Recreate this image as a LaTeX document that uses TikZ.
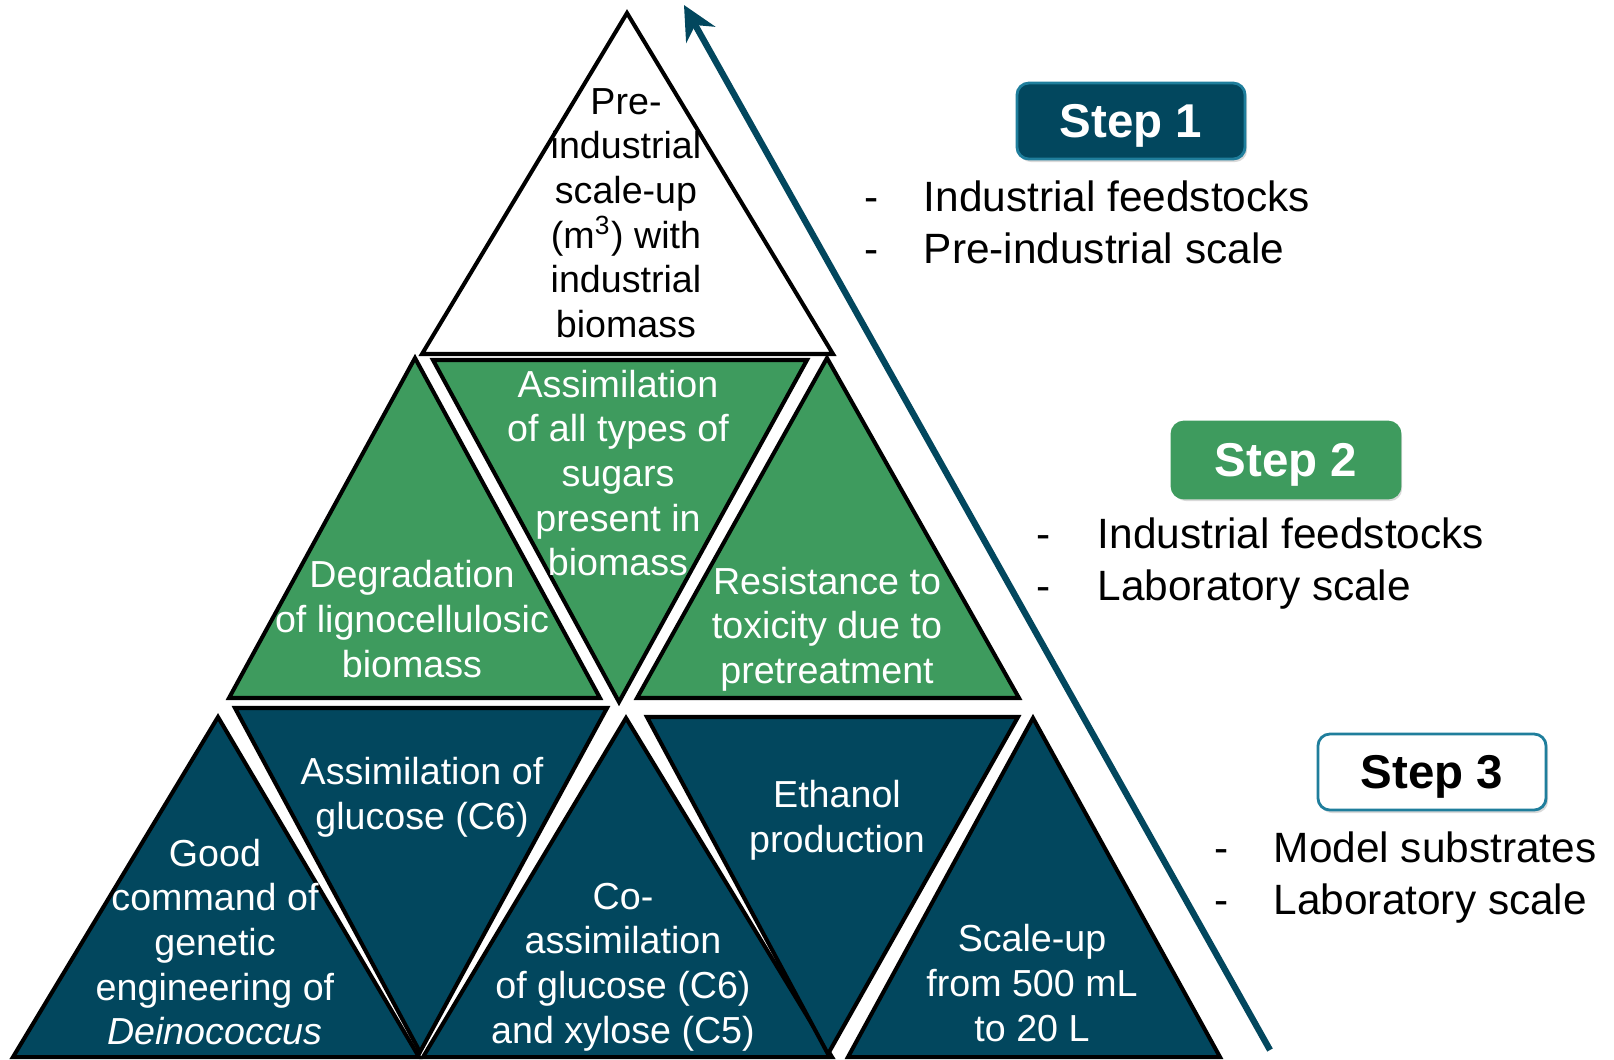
\documentclass[tikz,border=0pt]{standalone}
\usepackage{fontspec}
\setmainfont{Liberation Sans}
\usetikzlibrary{arrows.meta,shadows}

\definecolor{darkblue}{HTML}{02475E}
\definecolor{leafgreen}{HTML}{3E9B5E}
\definecolor{boxteal}{HTML}{1F7E9C}

\tikzset{
  tri/.style={draw=black,line width=1.15pt},
  stepbox/.style={rounded corners=0.12cm,minimum width=2.28cm,minimum height=0.76cm,
    inner sep=0pt,text depth=0pt,line width=0.8pt,font=\fontsize{13.5}{16}\selectfont\bfseries,
    drop shadow={shadow xshift=0.02cm,shadow yshift=-0.03cm,opacity=0.3}},
  bullets/.style={anchor=base west,inner sep=0pt,font=\fontsize{12.05}{14.8}\selectfont}
}

\begin{document}
\begin{tikzpicture}[x=0.01cm,y=-0.01cm]
  \useasboundingbox (0,0) rectangle (1614,1059);

  % pyramid
  \draw[tri,fill=white] (627,13) -- (422,354) -- (833,354) -- cycle;

  \draw[tri,fill=leafgreen] (415,358) -- (229,698) -- (600,698) -- cycle;
  \draw[tri,fill=leafgreen] (433,360) -- (807,360) -- (619,702) -- cycle;
  \draw[tri,fill=leafgreen] (827,358) -- (637,698) -- (1019,698) -- cycle;

  \draw[tri,fill=darkblue] (218,717) -- (13,1057) -- (419,1057) -- cycle;
  \draw[tri,fill=darkblue] (235,708) -- (607,708) -- (420,1052) -- cycle;
  \draw[tri,fill=darkblue] (626,718) -- (423,1057) -- (832,1057) -- cycle;
  \draw[tri,fill=darkblue] (647,717) -- (1018,717) -- (828,1054) -- cycle;
  \draw[tri,fill=darkblue] (1033,718) -- (848,1057) -- (1220,1057) -- cycle;

  \begin{scope}[every node/.style={align=center,inner sep=0pt,font=\fontsize{10.7}{12.7}\selectfont}]
    \node (pilot) at (626,213) {Pre-\\industrial\\scale-up\\(m\textsuperscript{3}) with\\industrial\\biomass};

    \begin{scope}[every node/.append style={text=white}]
      \node (degrade)  at (412,619) {Degradation\\of lignocellulosic\\biomass};
      \node (sugars)   at (618,473) {Assimilation\\of all types of\\sugars\\present in\\biomass};
      \node (toxicity) at (827,629) {Resistance to\\toxicity due to\\pretreatment};

      \node (genetic)  at (215,942) {Good\\command of\\genetic\\engineering of\\\textit{Deinococcus}};
      \node (glucose)  at (422,797) {Assimilation of\\glucose (C6)};
      \node (xylose)   at (623,967) {Co-\\assimilation\\of glucose (C6)\\and xylose (C5)};
      \node (ethanol)  at (837,820) {Ethanol\\production};
      \node (scaleup)  at (1032,983) {Scale-up\\from 500 mL\\to 20 L};
    \end{scope}
  \end{scope}

  % arrow along the pyramid
  \coordinate (foot) at (1270,1050);
  \coordinate (tip) at (684,5);
  \draw[-{Stealth[length=0.34cm,width=0.33cm]},line width=1.8pt,darkblue] (foot) -- (tip);

  % steps
  \node[stepbox,fill=darkblue,draw=boxteal,text=white] (step1) at (1131,121) {Step 1};
  \node[stepbox,fill=leafgreen,draw=leafgreen,text=white] (step2) at (1286,460) {Step 2};
  \node[stepbox,fill=white,draw=boxteal] (step3) at (1432,772) {Step 3};

  \node[bullets] (list1) at (864,211) {\begin{tabular}[t]{@{}p{0.59cm}@{}l@{}}-&Industrial feedstocks\\-&Pre-industrial scale\end{tabular}};
  \node[bullets] (list2) at (1036,548) {\begin{tabular}[t]{@{}p{0.61cm}@{}l@{}}-&Industrial feedstocks\\-&Laboratory scale\end{tabular}};
  \node[bullets] (list3) at (1214,862) {\begin{tabular}[t]{@{}p{0.59cm}@{}l@{}}-&Model substrates\\-&Laboratory scale\end{tabular}};

\end{tikzpicture}
\end{document}
